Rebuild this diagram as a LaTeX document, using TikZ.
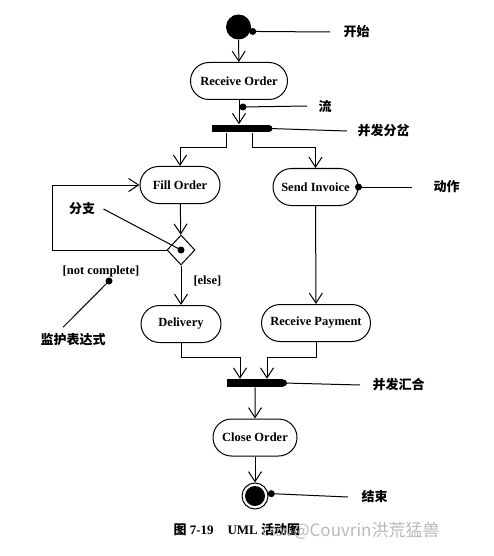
\documentclass[tikz,border=0pt]{standalone}
\usepackage{fontspec}
\setmainfont{Liberation Serif}
\newfontfamily\cjk{Noto Sans CJK SC}
\usetikzlibrary{arrows.meta,shapes.geometric,shapes.misc}

\begin{document}
\begin{tikzpicture}[x=1pt, y=-1pt, line width=1pt,
    >={Straight Barb[length=10pt,width=13pt]},
    act/.style={draw, rounded rectangle, minimum height=37pt, inner sep=0pt,
        font=\fontsize{12.5}{14}\selectfont\bfseries},
    bar/.style={fill=black, minimum height=7.5pt, inner sep=0pt},
    note/.style={font=\fontsize{13}{15}\selectfont\cjk\bfseries, anchor=west, inner sep=0pt},
    guard/.style={font=\fontsize{12.5}{14}\selectfont\bfseries, inner sep=0pt}]
    \useasboundingbox (0,0) rectangle (493,556);
    % activity nodes
    \node[circle, fill=black, minimum size=25pt, inner sep=0pt] (start) at (238.5,27) {};
    \node[act, minimum width=97pt] (recv) at (239,81) {Receive Order};
    \node[bar, minimum width=57pt] (fork) at (240,128.5) {};
    \node[act, minimum width=80pt] (fill) at (180,185) {Fill Order};
    \node[act, minimum width=85pt] (invoice) at (315.5,187) {Send Invoice};
    \node[diamond, draw, inner sep=0pt, minimum width=28pt, minimum height=30pt] (branch) at (181,250) {};
    \node[act, minimum width=80pt] (delivery) at (181,324) {Delivery};
    \node[act, minimum width=109pt] (payment) at (316,323) {Receive Payment};
    \node[bar, minimum width=56pt] (join) at (255,383) {};
    \node[act, minimum width=84pt] (close) at (255,437.5) {Close Order};
    \node[circle, draw, minimum size=26pt, inner sep=0pt,
        path picture={\fill (path picture bounding box.center) circle (10pt);}] (stop) at (255,496) {};
    \coordinate (merge) at (255,357);
    % flows
    \draw[->] (start) -- (recv);
    \draw[->] (recv.south) -- (recv.south |- fork.north);
    \draw[->] ([xshift=-14pt]fork.south) -- ++(0,15) -| (fill.north);
    \draw[->] ([xshift=12pt]fork.south) -- ++(0,15) -| (invoice.north);
    \draw[->] (fill) -- (branch);
    \draw[->] (branch.west) -- ++(-114,0) |- (fill.west);
    \draw[->] (branch) -- node[guard, right=12pt, pos=0.4] (lelse) {[else]} (delivery);
    \draw[->] (invoice) -- (payment);
    \draw[->] (delivery.south) -- (delivery.south |- merge) -| ([xshift=-15pt]join.north);
    \draw[->] (payment.south) -- (payment.south |- merge) -| ([xshift=12pt]join.north);
    \draw[->] (join) -- (close);
    \draw[->] (close) -- (stop);
    % annotations
    \node[note] (lstart) at (343,32) {开始};
    \node[note] (lflow) at (318,106) {流};
    \node[note] (lfork) at (357,131) {并发分岔};
    \node[note] (laction) at (433,187) {动作};
    \node[note, anchor=center] (lbranch) at (82,209) {分支};
    \node[guard] (lguard) at (101,271) {[not complete]};
    \node[note, anchor=center] (lexpr) at (73,340) {监护表达式};
    \node[note] (ljoin) at (372,385) {并发汇合};
    \node[note] (lstop) at (361,497) {结束};
    \coordinate (flowpt) at (243,107);
    \coordinate (guardpt) at (109,281);
    \foreach \p in {([xshift=2pt]start.-20), (flowpt), (fork.east), (invoice.east),
                    (branch.center), (guardpt), (join.east), ([xshift=3pt]stop.10)} {
        \fill \p circle (3.5pt);
    }
    \draw ([xshift=2pt]start.-20) -- ([xshift=-13pt]lstart.west);
    \draw (flowpt) -- ([xshift=-11pt]lflow.west);
    \draw (fork.east) -- ([xshift=-10pt]lfork.west);
    \draw (invoice.east) -- ([xshift=-21pt]laction.west);
    \draw (branch.center) -- ([xshift=8pt]lbranch.east);
    \draw (guardpt) -- ([xshift=-10pt,yshift=6pt]lexpr.north);
    \draw (join.east) -- ([xshift=-12pt]ljoin.west);
    \draw ([xshift=3pt]stop.10) -- ([xshift=-13pt]lstop.west);
    % caption
    \node[anchor=west, inner sep=0pt, font=\fontsize{13}{15}\selectfont\bfseries] (caption) at (173,530)
        {{\cjk 图} 7-19\hspace{14pt}UML {\cjk 活动图}};
    \node[anchor=west, inner sep=0pt, text=gray!55, font=\cjk] (mark) at (262,531)
        {{\fontsize{11}{12}\selectfont CSDN} {\fontsize{17}{19}\selectfont @Couvrin洪荒猛兽}};
\end{tikzpicture}
\end{document}
